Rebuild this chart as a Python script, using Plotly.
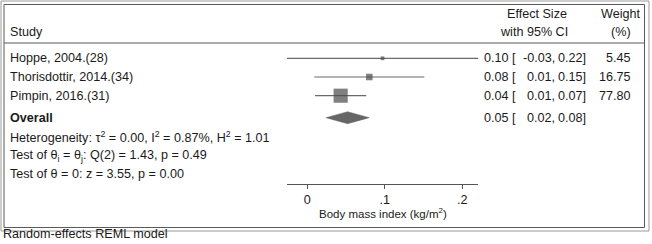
import plotly.graph_objects as go
import math

# ---- data ----
studies = ["Hoppe, 2004.(28)", "Thorisdottir, 2014.(34)", "Pimpin, 2016.(31)"]
es = [0.097, 0.080, 0.043]
lo = [-0.0266, 0.009, 0.010]
hi = [0.2206, 0.151, 0.076]
es_txt = ["0.10", "0.08", "0.04"]
lo_txt = ["-0.03", "0.01", "0.01"]
hi_txt = ["0.22", "0.15", "0.07"]
weights = [5.45, 16.75, 77.80]
weight_txt = ["5.45", "16.75", "77.80"]
overall_es, overall_lo, overall_hi = 0.052, 0.024, 0.080
overall_txt = ("0.05", "0.02", "0.08")
tick_vals = [0, 0.1, 0.2]
tick_text = ["0", ".1", ".2"]

W, H = 652, 244
FONT = "Liberation Sans, Arial, sans-serif"
TXT = "#1a1a1a"
FS = 12.6

def px(x):
    return x / W

def py(y):
    return 1 - y / H

row_y = [58.3 + 18.7 * i for i in range(len(studies))]
overall_y = 117.7

fig = go.Figure()

# CI lines + weighted squares
for i in range(len(studies)):
    fig.add_trace(go.Scatter(x=[lo[i], hi[i]], y=[row_y[i], row_y[i]], mode="lines",
                             line=dict(color="#6a6a6a", width=1.2), hoverinfo="skip",
                             showlegend=False, cliponaxis=False))
fig.add_trace(go.Scatter(x=es, y=row_y, mode="markers",
                         marker=dict(symbol="square", size=[1.6 * math.sqrt(w) for w in weights],
                                     color="#4a4a4a", line=dict(width=0)),
                         showlegend=False, cliponaxis=False))
# overall diamond
dh = 6
fig.add_trace(go.Scatter(x=[overall_lo, overall_es, overall_hi, overall_es, overall_lo],
                         y=[overall_y, overall_y - dh, overall_y, overall_y + dh, overall_y],
                         mode="lines", fill="toself", fillcolor="#666666",
                         line=dict(color="#666666", width=0.5), showlegend=False,
                         cliponaxis=False, hoverinfo="skip"))

ann = []
def add(text, x, y, anchor="left", size=FS):
    ann.append(dict(text=text, x=px(x), y=py(y), xref="paper", yref="paper",
                    xanchor=anchor, yanchor="middle", showarrow=False,
                    font=dict(family=FONT, size=size, color=TXT)))

# headers
add("Study", 8, 32)
add("Effect Size", 537, 14, "center")
add("with 95% CI", 534, 32, "center")
add("Weight", 620, 14, "center")
add("(%)", 621, 32, "center")

for i, s in enumerate(studies):
    add(s, 8, row_y[i])
    add(es_txt[i] + " [", 481.7, row_y[i])
    add(lo_txt[i] + ",", 556.7, row_y[i], "right")
    add(hi_txt[i] + "]", 588.3, row_y[i], "right")
    add(weight_txt[i], 633.3, row_y[i], "right")

add("<b>Overall</b>", 8, overall_y)
add(overall_txt[0] + " [", 481.7, overall_y)
add(overall_txt[1] + ",", 556.7, overall_y, "right")
add(overall_txt[2] + "]", 588.3, overall_y, "right")

add("Heterogeneity: τ<sup>2</sup> = 0.00, I<sup>2</sup> = 0.87%, H<sup>2</sup> = 1.01", 8, 137)
add("Test of θ<sub>i</sub> = θ<sub>j</sub>: Q(2) = 1.43, p = 0.49", 8, 156)
add("Test of θ = 0: z = 3.55, p = 0.00", 8, 173.5)
add("Random-effects REML model", 1, 234)
add("Body mass index (kg/m<sup>2</sup>)", 382.5, 213, "center", 11.5)

shapes = [
    dict(type="rect", xref="paper", yref="paper", x0=px(1), x1=px(649), y0=py(1), y1=py(231),
         line=dict(color="#9a9a9a", width=1)),
    dict(type="rect", xref="paper", yref="paper", x0=px(4), x1=px(644.5), y0=py(4.5), y1=py(227.5),
         line=dict(color="#5a5a5a", width=1)),
    dict(type="line", xref="paper", yref="paper", x0=px(4), x1=px(644.5), y0=py(43), y1=py(43),
         line=dict(color="#5a5a5a", width=1)),
]

fig.update_layout(
    width=W, height=H, margin=dict(l=0, r=0, t=0, b=0),
    paper_bgcolor="white", plot_bgcolor="white",
    annotations=ann, shapes=shapes,
    xaxis=dict(domain=[286.7 / W, 478.3 / W], range=[min(lo), max(hi)],
               showgrid=False, zeroline=False, showline=True, linecolor="#555555", linewidth=1,
               ticks="outside", ticklen=4, tickcolor="#555555", tickwidth=1,
               tickvals=tick_vals, ticktext=tick_text,
               tickfont=dict(family=FONT, size=FS, color=TXT), anchor="y"),
    yaxis=dict(domain=[py(184), 1], range=[184, 0], visible=False, fixedrange=True),
    font=dict(family=FONT),
)

fig.write_html("out.html", config={"displayModeBar": False},
               post_script="document.body.style.margin='0';document.body.style.overflow='hidden';")
